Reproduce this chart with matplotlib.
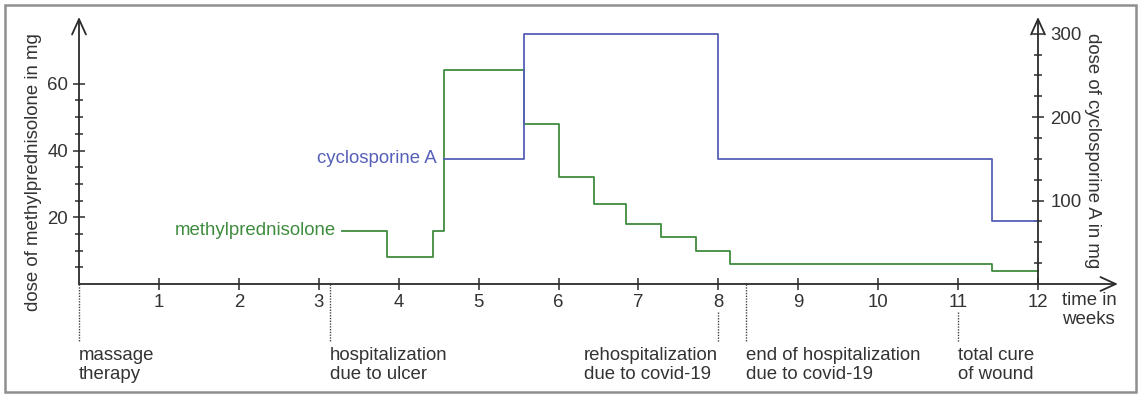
import matplotlib
matplotlib.use("Agg")
import matplotlib.pyplot as plt
from matplotlib.patches import Rectangle
from matplotlib.ticker import FixedLocator

plt.rcParams['font.family'] = ['Liberation Sans', 'DejaVu Sans']

# ---- data ----
mp_weeks = [3.29, 3.86, 4.43, 4.57, 5.57, 6.0, 6.44, 6.85, 7.28, 7.72, 8.14, 11.43, 12.0]
mp_dose = [16, 8, 16, 64, 48, 32, 24, 18, 14, 10, 6, 4, 4]
cy_weeks = [4.57, 5.57, 8.0, 11.43, 12.0]
cy_dose = [150, 300, 150, 75, 75]
x_ticks = [1, 2, 3, 4, 5, 6, 7, 8, 9, 10, 11, 12]
left_major = [20, 40, 60]
right_major = [100, 200, 300]
event_weeks = [0.0, 3.14, 8.0, 8.35, 11.0]
event_labels = ["massage\ntherapy", "hospitalization\ndue to ulcer",
                "rehospitalization\ndue to covid-19",
                "end of hospitalization\ndue to covid-19", "total cure\nof wound"]
event_align = ["left", "left", "right", "left", "left"]
event_start = [0.0, 0.0, -8.4, 0.0, -8.4]

W, H = 1142, 397
fig = plt.figure(figsize=(W / 100, H / 100), dpi=100)

px_per_week = (1038 - 79) / 12.0
xmax = 13.05
ax = fig.add_axes([79 / W, (H - 284) / H, xmax * px_per_week / W, 267 / H])
ax.set_xlim(0, xmax)
ax.set_ylim(0, 80)
ax2 = ax.twinx()
ax2.set_ylim(0, 320)

txt = '#333333'
axc = '#2b2b2b'
green = '#3f8c3f'
blue = '#5660b8'
fs = 13.4

for a in (ax, ax2):
    for s in a.spines.values():
        s.set_visible(False)
    a.patch.set_visible(False)

ax2.spines['right'].set_position(('data', 12))

# ticks
ax.xaxis.set_major_locator(FixedLocator(x_ticks))
ax.yaxis.set_major_locator(FixedLocator(left_major))
ax.yaxis.set_minor_locator(FixedLocator([v for v in range(5, 60, 5) if v not in left_major]))
ax2.yaxis.set_major_locator(FixedLocator(right_major))
ax2.yaxis.set_minor_locator(FixedLocator([v for v in range(25, 300, 25) if v not in right_major]))
ax.tick_params(axis='both', which='major', direction='inout', length=8, width=1.1,
               color=axc, labelsize=fs, labelcolor=txt, pad=3)
ax.tick_params(axis='y', which='minor', direction='inout', length=6, width=1.1, color=axc)
ax.tick_params(axis='y', pad=4)
ax2.tick_params(axis='y', which='major', direction='inout', length=8, width=1.1,
                color=axc, labelsize=fs, labelcolor=txt, pad=5)
ax2.tick_params(axis='y', which='minor', direction='inout', length=6, width=1.1, color=axc)

# axis arrows
arrow = dict(arrowstyle='->,head_length=0.55,head_width=0.25', lw=1.3, color=axc,
             shrinkA=0, shrinkB=0, mutation_scale=20)
ax.annotate('', xy=(0, 80), xytext=(0, 0), arrowprops=arrow, annotation_clip=False)
ax.annotate('', xy=(13.0, 0), xytext=(0, 0), arrowprops=arrow, annotation_clip=False)
ax2.annotate('', xy=(12, 320), xytext=(12, 0), arrowprops=arrow, annotation_clip=False)

# series
ax.step(mp_weeks, mp_dose, where='post', color=green, lw=1.3, clip_on=False)
ax2.step(cy_weeks, cy_dose, where='post', color=blue, lw=1.3, clip_on=False)

ax.text(3.22, 16, 'methylprednisolone', color=green, fontsize=fs, ha='right',
        va='center')
ax2.text(4.47, 150, 'cyclosporine A', color=blue, fontsize=fs, ha='right',
         va='center')

# events
for xw, lab, al, y0 in zip(event_weeks, event_labels, event_align, event_start):
    ax.plot([xw, xw], [y0, -17.5], color='#444444', lw=1.0, ls=(0, (1, 1)),
            clip_on=False)
    ax.text(xw, -18.9, lab, ha=al, va='top', fontsize=fs, color=txt,
            linespacing=1.15, multialignment='left')

ax.text(12.3, -2.4, 'time in\nweeks', ha='left', va='top', fontsize=fs, color=txt,
        linespacing=1.15)

fig.text(34 / W, 1 - 172.5 / H, 'dose of methylprednisolone in mg', rotation=90,
         ha='center', va='center', fontsize=fs, color=txt)
fig.text(1092 / W, 1 - 151 / H, 'dose of cyclosporine A in mg', rotation=270,
         ha='center', va='center', fontsize=fs, color=txt)

fig.patches.append(Rectangle((5 / W, 5 / H), 1131 / W, 387 / H, transform=fig.transFigure,
                             fill=False, edgecolor='#8f8f8f', lw=1.8))

fig.savefig('out.png', dpi=100)
